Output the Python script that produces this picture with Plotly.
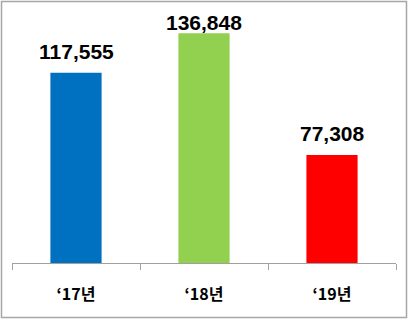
import plotly.graph_objects as go

categories = ["\u201817년", "\u201818년", "\u201819년"]
values = [117555, 136848, 77308]
colors = ["#0070C0", "#92D050", "#FF0000"]
value_labels = [f"{v:,}" for v in values]

y_min, y_max = 24400, 150250
label_cap = 131700  # labels kept inside the plot area (like the original)

fig = go.Figure()
fig.add_trace(go.Bar(
    x=categories, y=values, marker=dict(color=colors, line=dict(width=0)),
    width=0.4, showlegend=False, hoverinfo="skip",
))

for c, v, t in zip(categories, values, value_labels):
    fig.add_annotation(
        x=c, y=min(v, label_cap), text=f"<b>{t}</b>", showarrow=False,
        yanchor="bottom", yshift=8, xanchor="center",
        font=dict(family="Liberation Sans, Arial, sans-serif", size=21, color="black"),
    )

W, H = 409, 323
ml, mr, mt, mb = 12, 13, 6, 60
pw, ph = W - ml - mr, H - mt - mb
bx0, bx1, by0, by1 = 1.5, 406.5, 1.5, 317.5
fig.add_shape(
    type="rect", xref="paper", yref="paper",
    x0=(bx0 - ml) / pw, x1=(bx1 - ml) / pw,
    y0=(H - mb - by1) / ph, y1=(H - mb - by0) / ph,
    line=dict(color="#a6a6a6", width=1.5), fillcolor="rgba(0,0,0,0)", layer="below",
)

fig.update_layout(
    width=W, height=H, margin=dict(l=ml, r=mr, t=mt, b=mb),
    paper_bgcolor="white", plot_bgcolor="white",
    xaxis=dict(
        type="category", showline=True, linecolor="#a0a0a0", linewidth=1,
        ticks="outside", tickson="boundaries", ticklen=6, tickcolor="#a0a0a0", tickwidth=1,
        showgrid=False, zeroline=False, ticklabelstandoff=17,
        tickfont=dict(family="Noto Sans CJK KR", size=16, color="black", weight="bold"),
    ),
    yaxis=dict(range=[y_min, y_max], visible=False, showgrid=False, zeroline=False),
)

fig.write_html("out.html")
